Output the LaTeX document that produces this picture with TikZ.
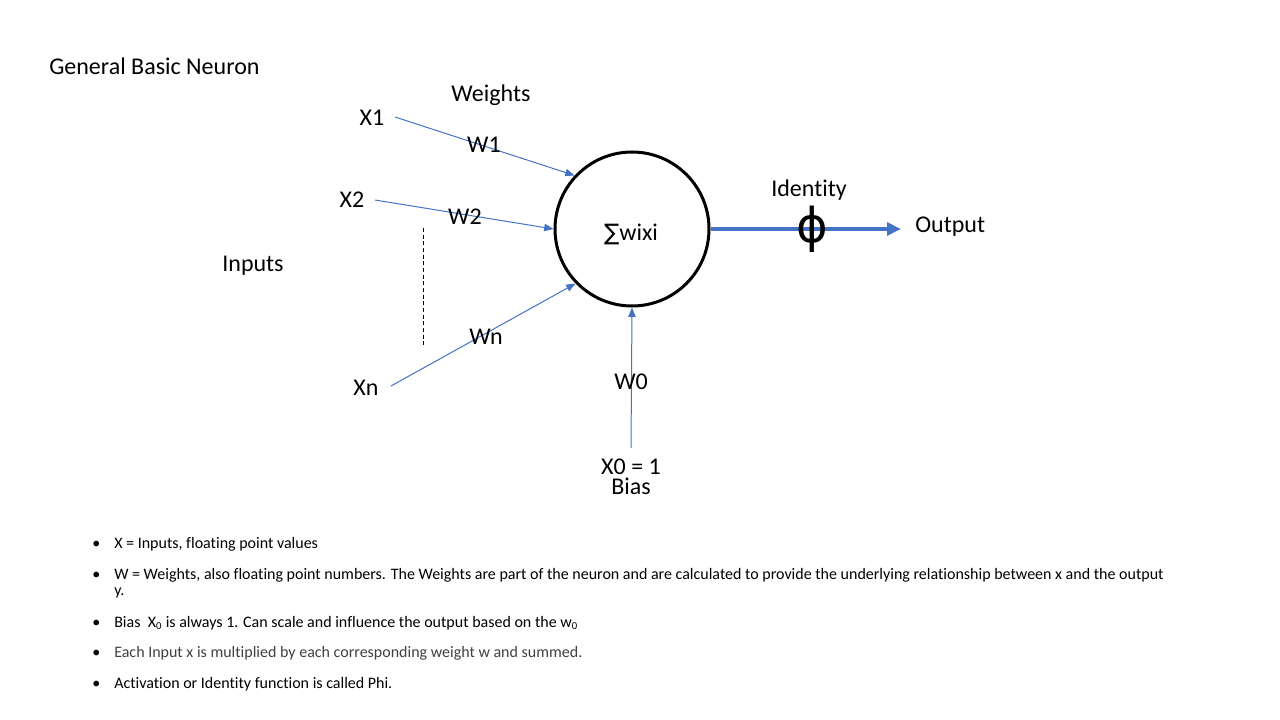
\documentclass[tikz,border=0pt]{standalone}
\usepackage{fontspec}
\setmainfont{Carlito}[Ligatures=NoCommon]
\newfontfamily\symfont{DejaVu Sans}
\usetikzlibrary{arrows.meta,positioning,calc}
\definecolor{nnBlue}{RGB}{68,114,196}
\definecolor{nnGray}{RGB}{64,64,64}

\begin{document}
\begin{tikzpicture}[
    x=0.75pt, y=-0.75pt,
    lbl/.style={font=\fontsize{18}{21}\selectfont, anchor=base, inner sep=0pt},
    neuron/.style={draw, circle, line width=2.25pt, minimum size=115.5pt, inner sep=0pt},
    wire/.style={-{Triangle[length=7pt,width=5.5pt]}, nnBlue, line width=0.75pt},
    outwire/.style={-{Triangle[length=10.5pt,width=9.5pt]}, nnBlue, line width=3pt},
    note/.style={font=\fontsize{12}{14}\selectfont, anchor=base west, inner sep=0pt}
  ]
  \useasboundingbox (0,0) rectangle (1280,720);

  \node[lbl, anchor=base west] (title) at (49,75) {General Basic Neuron};

  % neuron body
  \node[neuron] (sum) at (632,229) {};
  \node[lbl] (sumtxt) at (631,240) {{\symfont\fontsize{17}{20}\selectfont ∑}wixi};

  % inputs
  \node[lbl] (x1) at (372,126) {X1};
  \node[lbl] (x2) at (352,208) {X2};
  \node[lbl] (xn) at (366,395) {Xn};
  \node[lbl] (inputs) at (253,271) {Inputs};
  \node[lbl] (weights) at (491,102) {Weights};
  \coordinate (s1) at (395,117);
  \coordinate (s2) at (375,200);
  \coordinate (sn) at (391,386);
  \draw[wire] (s1) -- (sum.137);
  \draw[wire] (s2) -- (sum.180);
  \draw[wire] (sn) -- (sum.224);
  \node[lbl] (w1) at (484,153) {W1};
  \node[lbl] (w2) at (465,224) {W2};
  \node[lbl] (wn) at (486,344) {Wn};
  \coordinate (dtop) at (423,228);
  \coordinate (dbot) at (423,347);
  \draw[dashed, dash pattern=on 3pt off 2pt, line width=0.75pt] (dtop) -- (dbot);

  % bias
  \node[lbl, anchor=south, align=center, font=\fontsize{18}{15}\selectfont] (x0) at (631,495) {X0 = 1\\Bias};
  \coordinate (s0) at (631,448);
  \draw[wire] (s0) -- (sum.south);
  \node[lbl] (w0) at (631,389) {W0};

  % output
  \coordinate (tip) at (901,229);
  \draw[outwire] (sum.east) -- (tip);
  \node[font=\symfont\fontsize{36}{42}\selectfont, inner sep=0pt] (phi) at (812,229) {ϕ};
  \node[lbl] (ident) at (809,197) {Identity};
  \node[lbl, anchor=base west] (out) at (915,233) {Output};

  % notes
  \foreach \yy/\txt in {548/{X = Inputs, floating point values},
      579/{W = Weights, also floating point numbers. The Weights are part of the neuron and are calculated to provide the underlying relationship between x and the output},
      627/{Bias\ \ X\textsubscript{0} is always 1. Can scale and influence the output based on the w\textsubscript{0}},
      657/{\color{nnGray}Each Input x is multiplied by each corresponding weight w and summed.},
      688/{Activation or Identity function is called Phi.}}
  {
    \node[note] at (92,\yy) {•};
    \node[note] at (114,\yy) {\txt};
  }
  \node[note] (ywrap) at (114,595) {y.};
\end{tikzpicture}
\end{document}
